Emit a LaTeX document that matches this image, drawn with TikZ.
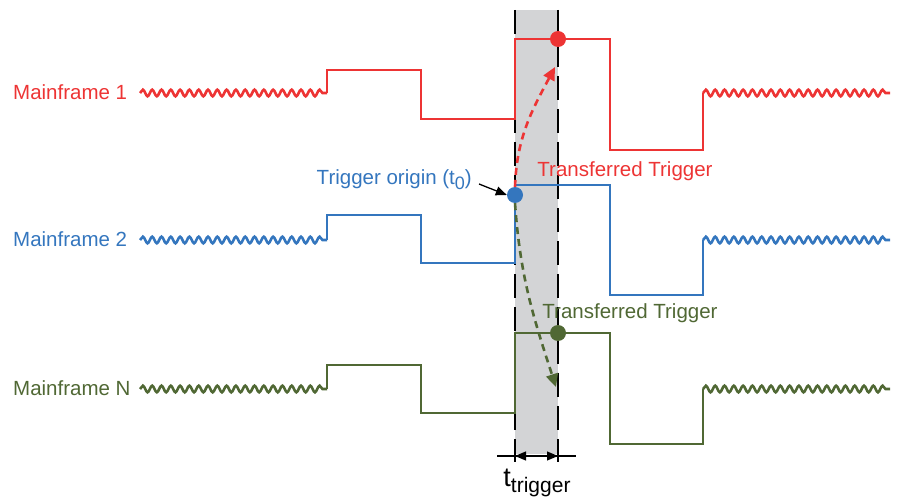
\documentclass[tikz,border=0pt]{standalone}
\usepackage{fontspec}
\setmainfont{Liberation Sans}
\usetikzlibrary{decorations.pathmorphing,arrows.meta}
\definecolor{mred}{RGB}{237,52,52}
\definecolor{mblue}{RGB}{52,118,190}
\definecolor{mgreen}{RGB}{80,104,52}
\definecolor{band}{RGB}{211,212,214}
\begin{document}
\begin{tikzpicture}[x=1pt,y=-1pt,
  sig/.style={line width=2.6pt,line join=miter},
  wavy/.style={line width=2.6pt,decorate,decoration={snake,segment length=9.3pt,amplitude=3.3pt}},
  dot/.style={circle,inner sep=0pt,minimum size=16pt},
  lbl/.style={font=\fontsize{20.5}{24}\selectfont,inner sep=0pt},
  dashline/.style={line width=1.8pt,black,dash pattern=on 24pt off 9pt},
  dasharrow/.style={line width=2.6pt,dash pattern=on 7pt off 5pt,-{Triangle[length=13pt,width=12pt]}}]
\useasboundingbox (0,0) rectangle (898,500);
% band
\fill[band] (515,10) rectangle (558,454);
\draw[dashline] (515,10) -- (515,462);
\draw[dashline] (558,10) -- (558,462);
% labels
\node[lbl,mred,anchor=base west] (l1) at (13,100) {Mainframe 1};
\node[lbl,mblue,anchor=base west] (l2) at (13,247) {Mainframe 2};
\node[lbl,mgreen,anchor=base west] (l3) at (13,395) {Mainframe N};
% red
\draw[wavy,mred] (140,93) -- (327,93);
\draw[sig,mred] (327,93) -- (327,70) -- (421,70) -- (421,119) -- (515,119) -- (515,39) -- (610,39) -- (610,150) -- (703,150) -- (703,93);
\draw[wavy,mred] (703,93) -- (890,93);
% blue
\draw[wavy,mblue] (140,240) -- (327,240);
\draw[sig,mblue] (327,240) -- (327,215) -- (421,215) -- (421,263) -- (515,263) -- (515,185) -- (610,185) -- (610,295) -- (703,295) -- (703,240);
\draw[wavy,mblue] (703,240) -- (890,240);
% green
\draw[wavy,mgreen] (140,389) -- (327,389);
\draw[sig,mgreen] (327,389) -- (327,365) -- (421,365) -- (421,413) -- (515,413) -- (515,333) -- (610,333) -- (610,444) -- (703,444) -- (703,389);
\draw[wavy,mgreen] (703,389) -- (890,389);
% dots
\node[dot,fill=mred] (rd) at (558,39) {};
\node[dot,fill=mblue] (bd) at (515,195) {};
\node[dot,fill=mgreen] (gd) at (558,333) {};
% text labels
\node[lbl,mred,anchor=base] (tr) at (625,177) {Transferred Trigger};
\node[lbl,mgreen,anchor=base] (tg) at (630,318) {Transferred Trigger};
\node[lbl,mblue,anchor=base east] (to) at (472,185) {Trigger origin (t\raisebox{-5pt}{\fontsize{18}{20}\selectfont 0})};
% arrows
\coordinate (rt) at (555,67);
\coordinate (gt) at (556,387);
\draw[dasharrow,mred] (bd.north) to[out=88,in=242] (rt);
\draw[dasharrow,mgreen] (bd.south) to[out=-86,in=108] (gt);
\coordinate (oa) at (479,184);
\draw[line width=1.3pt,-{Triangle[length=11pt,width=9pt]}] (oa) -- (bd.west);
% dimension
\coordinate (d1) at (497,456);
\coordinate (d2) at (576,456);
\coordinate (da) at (515,456);
\coordinate (db) at (558,456);
\draw[line width=1.1pt] (d1) -- (d2);
\draw[line width=1.1pt,{Triangle[length=11pt,width=9pt]}-{Triangle[length=11pt,width=9pt]}] (da) -- (db);
\node[inner sep=0pt,anchor=base] (tt) at (537,486) {\fontsize{27}{30}\selectfont t\raisebox{-6pt}{\fontsize{21}{24}\selectfont trigger}};
\end{tikzpicture}
\end{document}
